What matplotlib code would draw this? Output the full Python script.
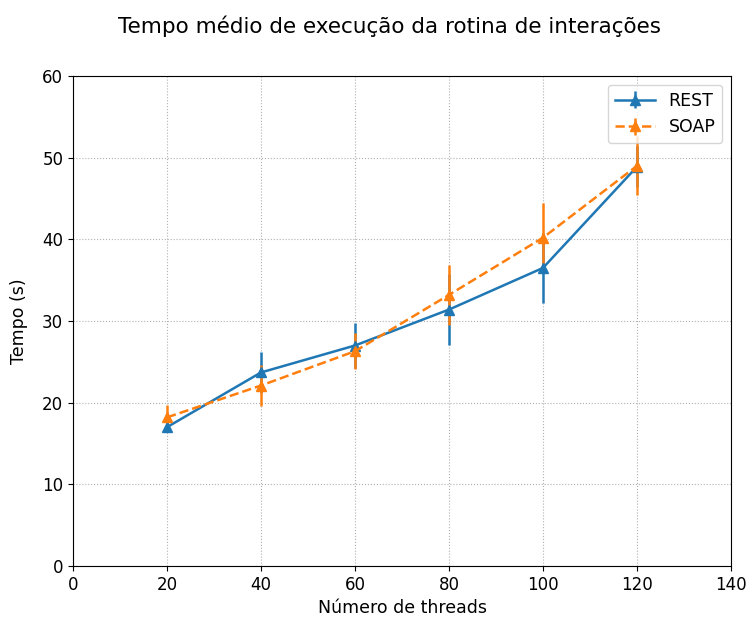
import matplotlib
matplotlib.use("Agg")
from matplotlib import pyplot as plt

threads = [20, 40, 60, 80, 100, 120]
rest = [17.0, 23.7, 27.0, 31.4, 36.5, 48.9]
rest_err = [0.6, 2.5, 2.8, 4.3, 4.3, 2.5]
soap = [18.2, 22.1, 26.3, 33.2, 40.2, 49.0]
soap_err = [1.5, 2.5, 2.2, 3.7, 4.3, 3.6]

fig = plt.figure(figsize=(7.47, 6.21), dpi=100)
ax = fig.add_axes([73/747, 1 - 566/621, 658/747, 490/621])
ax.errorbar(threads, rest, yerr=rest_err, marker='^', markersize=7, linewidth=1.8, label='REST')
ax.errorbar(threads, soap, yerr=soap_err, marker='^', markersize=7, linewidth=1.8,
            linestyle='--', label='SOAP')
ax.set_xlim(0, 140)
ax.set_ylim(0, 60)
ax.tick_params(labelsize=12)
ax.set_xlabel("Número de threads", fontsize=12.5)
ax.set_ylabel("Tempo (s)", fontsize=12.5, labelpad=10)
ax.grid(linestyle=':')
ax.legend(loc='upper right', fontsize=12.5, handlelength=2.3)
fig.suptitle("Tempo médio de execução da rotina de interações", x=0.522, y=0.975, fontsize=15.5)
fig.savefig("out.png")
